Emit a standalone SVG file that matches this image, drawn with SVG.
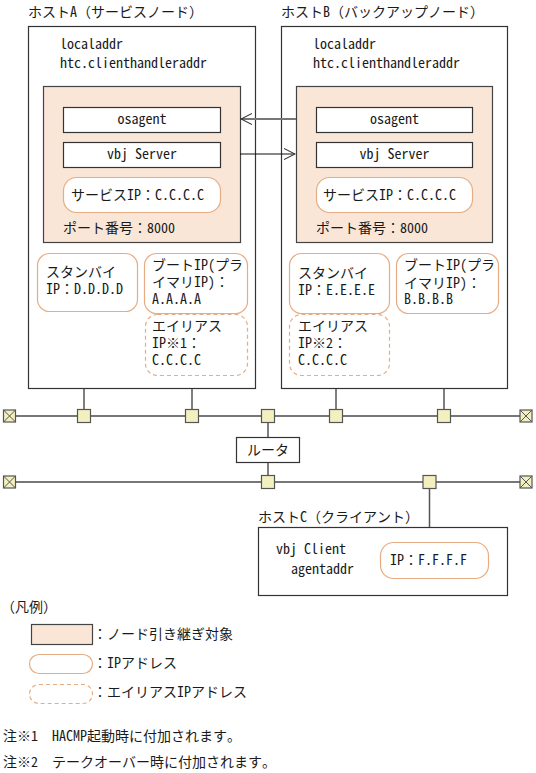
<svg xmlns="http://www.w3.org/2000/svg" width="536" height="773" viewBox="0 0 536 773">
<style>
text{font-family:"Noto Sans Mono CJK JP","Noto Sans CJK JP","Noto Sans CJK SC",monospace;font-size:14px;fill:#1a1a1a}
.mid{text-anchor:middle}
.host{fill:#fff;stroke:#333;stroke-width:1.2}
.tan{fill:#f9e6d7;stroke:#444;stroke-width:1.2}
.proc{fill:#fff;stroke:#333;stroke-width:1.2}
.ip{fill:#fff;stroke:#e6ad84;stroke-width:1.2}
.alias{fill:#fff;stroke:#e6ad84;stroke-width:1.2;stroke-dasharray:4 3}
.net{stroke:#777;stroke-width:2;fill:none}
.drop{stroke:#555;stroke-width:1.5;fill:none}
.hub{fill:#f3f0c0;stroke:#555;stroke-width:1.2}
.end{fill:#f3f0c0;stroke:#555;stroke-width:1.2}
.cross{stroke:#555;stroke-width:1;fill:none}
</style>
<defs>
<marker id="open" viewBox="0 0 12 12" refX="11" refY="6" markerWidth="12" markerHeight="12" markerUnits="userSpaceOnUse" orient="auto">
<path d="M0,0.5 L11,6 L0,11.5" fill="none" stroke="#333" stroke-width="1.1"/>
</marker>
</defs>

<g id="hostA">
<text x="28" y="17">ホストA（サービスノード）</text>
<rect class="host" x="28.5" y="26.5" width="227" height="362"/>
<text x="60" y="49">localaddr</text>
<text x="60" y="68">htc.clienthandleraddr</text>
</g>
<g id="takeoverA">
<rect class="tan" x="43.5" y="86.5" width="197" height="156"/>
<text x="63" y="233">ポート番号：8000</text>
</g>
<g id="osagentA">
<rect class="proc" x="63.5" y="107.5" width="157" height="25"/>
<text class="mid" x="142" y="124">osagent</text>
</g>
<g id="vbjServerA">
<rect class="proc" x="63.5" y="142.5" width="157" height="25"/>
<text class="mid" x="142" y="159">vbj Server</text>
</g>
<g id="serviceIpA">
<rect class="ip" x="63.5" y="177.5" width="157" height="35" rx="13"/>
<text x="71" y="199.5">サービスIP：C.C.C.C</text>
</g>
<g id="standbyA">
<rect class="ip" x="37.5" y="253.5" width="100" height="58" rx="12"/>
<text x="46" y="277">スタンバイ</text>
<text x="46" y="294">IP：D.D.D.D</text>
</g>
<g id="bootA">
<rect class="ip" x="144.5" y="253.5" width="103" height="60" rx="12"/>
<text x="152" y="269.5">ブートIP(プラ</text>
<text x="152" y="287">イマリIP)：</text>
<text x="152" y="304">A.A.A.A</text>
</g>
<g id="aliasA">
<rect class="alias" x="145.5" y="314.5" width="102" height="61" rx="12"/>
<text x="152" y="331">エイリアス</text>
<text x="152" y="348">IP※1：</text>
<text x="152" y="365">C.C.C.C</text>
</g>

<g id="hostB">
<text x="281" y="17">ホストB（バックアップノード）</text>
<rect class="host" x="281.5" y="26.5" width="226" height="362"/>
<text x="313" y="49">localaddr</text>
<text x="313" y="68">htc.clienthandleraddr</text>
</g>
<g id="takeoverB">
<rect class="tan" x="296.5" y="86.5" width="196" height="156"/>
<text x="316" y="233">ポート番号：8000</text>
</g>
<g id="osagentB">
<rect class="proc" x="316.5" y="107.5" width="156" height="25"/>
<text class="mid" x="394.5" y="124">osagent</text>
</g>
<g id="vbjServerB">
<rect class="proc" x="316.5" y="142.5" width="156" height="25"/>
<text class="mid" x="394.5" y="159">vbj Server</text>
</g>
<g id="serviceIpB">
<rect class="ip" x="316.5" y="177.5" width="156" height="35" rx="13"/>
<text x="323" y="199.5">サービスIP：C.C.C.C</text>
</g>
<g id="standbyB">
<rect class="ip" x="289.5" y="253.5" width="100" height="60" rx="12"/>
<text x="298" y="278">スタンバイ</text>
<text x="298" y="295">IP：E.E.E.E</text>
</g>
<g id="bootB">
<rect class="ip" x="396.5" y="253.5" width="102" height="60" rx="12"/>
<text x="404" y="269.5">ブートIP(プラ</text>
<text x="404" y="288">イマリIP)：</text>
<text x="404" y="304">B.B.B.B</text>
</g>
<g id="aliasB">
<rect class="alias" x="289.5" y="314.5" width="100" height="61" rx="12"/>
<text x="298" y="331">エイリアス</text>
<text x="298" y="348">IP※2：</text>
<text x="298" y="365">C.C.C.C</text>
</g>

<g id="router">
<rect class="proc" x="236.5" y="437.5" width="63" height="25"/>
<text class="mid" x="268" y="455">ルータ</text>
</g>

<g id="hostC">
<text x="258" y="522">ホストC（クライアント）</text>
<rect class="host" x="258.5" y="527.5" width="249" height="68"/>
<text x="276" y="554">vbj Client</text>
<text x="291" y="574">agentaddr</text>
</g>
<g id="ipC">
<rect class="ip" x="380.5" y="542.5" width="108" height="36" rx="13"/>
<text x="390" y="565">IP：F.F.F.F</text>
</g>

<g id="connectors">
<line x1="296" y1="119" x2="241" y2="119" stroke="#777" stroke-width="2" marker-end="url(#open)"/>
<line x1="240" y1="154" x2="295" y2="154" stroke="#111" stroke-width="1.2" marker-end="url(#open)"/>
<line class="net" x1="15" y1="416" x2="520" y2="416"/>
<line class="net" x1="15" y1="482" x2="520" y2="482"/>
<line class="drop" x1="84" y1="389" x2="84" y2="410"/>
<line class="drop" x1="192" y1="389" x2="192" y2="410"/>
<line class="drop" x1="336" y1="389" x2="336" y2="410"/>
<line class="drop" x1="444" y1="389" x2="444" y2="410"/>
<line class="drop" x1="268" y1="422" x2="268" y2="437"/>
<line class="drop" x1="268" y1="463" x2="268" y2="476"/>
<line class="drop" x1="429.5" y1="488" x2="429.5" y2="527"/>
</g>

<g id="hubs">
<rect class="hub" x="77.5" y="409.5" width="13" height="13"/>
<rect class="hub" x="185.5" y="409.5" width="13" height="13"/>
<rect class="hub" x="261.5" y="409.5" width="13" height="13"/>
<rect class="hub" x="329.5" y="409.5" width="13" height="13"/>
<rect class="hub" x="437.5" y="409.5" width="13" height="13"/>
<rect class="hub" x="261.5" y="475.5" width="13" height="13"/>
<rect class="hub" x="423" y="475.5" width="13" height="13"/>
</g>
<g id="terminators">
<rect class="end" x="3.5" y="410" width="12" height="12"/>
<path class="cross" d="M3.5,410 L15.5,422 M15.5,410 L3.5,422"/>
<rect class="end" x="520" y="410" width="12" height="12"/>
<path class="cross" d="M520,410 L532,422 M532,410 L520,422"/>
<rect class="end" x="3.5" y="476" width="12" height="12"/>
<path class="cross" d="M3.5,476 L15.5,488 M15.5,476 L3.5,488"/>
<rect class="end" x="520" y="476" width="12" height="12"/>
<path class="cross" d="M520,476 L532,488 M532,476 L520,488"/>
</g>

<g id="legend">
<text x="1" y="612">（凡例）</text>
<rect class="tan" x="31.5" y="624.5" width="61" height="20"/>
<text x="93" y="639">：ノード引き継ぎ対象</text>
<rect class="ip" x="29.5" y="654.5" width="63" height="19" rx="9.5"/>
<text x="93" y="668">：IPアドレス</text>
<rect class="alias" x="29.5" y="684.5" width="63" height="19" rx="9.5"/>
<text x="93" y="697">：エイリアスIPアドレス</text>
</g>
<g id="notes">
<text x="3" y="741">注※1　HACMP起動時に付加されます。</text>
<text x="3" y="767">注※2　テークオーバー時に付加されます。</text>
</g>
</svg>
